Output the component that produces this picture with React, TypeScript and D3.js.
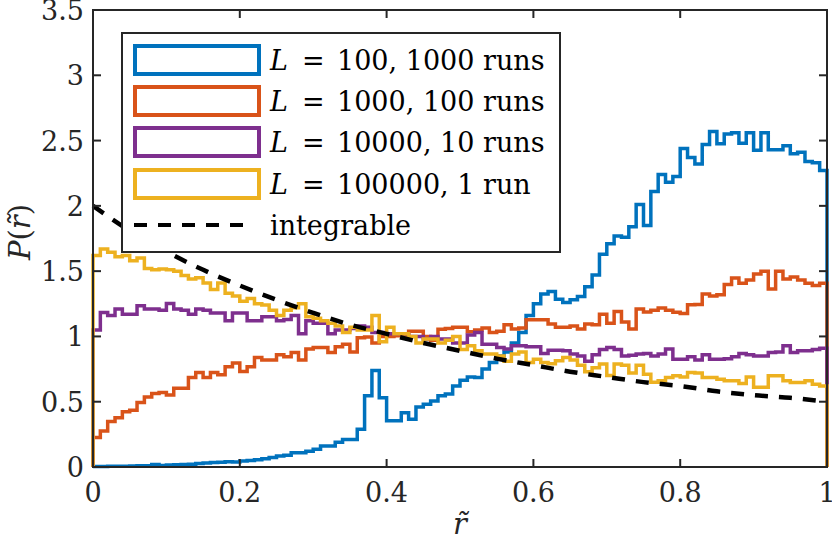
import React, { useEffect, useRef } from 'react';
import * as d3 from 'd3';

// histogram bins of width 0.01 on [0, 1]
const binWidth = 0.01;

const l100 = [
  0.003, 0.004, 0.005, 0.006, 0.006, 0.008, 0.009, 0.010, 0.020, 0.012,
  0.015, 0.018, 0.020, 0.022, 0.026, 0.030, 0.034, 0.036, 0.040, 0.038,
  0.045, 0.050, 0.056, 0.064, 0.072, 0.084, 0.090, 0.110, 0.110, 0.120,
  0.135, 0.160, 0.160, 0.190, 0.210, 0.210, 0.290, 0.545, 0.740, 0.530,
  0.355, 0.355, 0.415, 0.365, 0.460, 0.480, 0.505, 0.545, 0.560, 0.620,
  0.665, 0.690, 0.685, 0.750, 0.800, 0.850, 0.880, 0.950, 1.030, 1.160,
  1.250, 1.325, 1.345, 1.285, 1.260, 1.280, 1.305, 1.380, 1.470, 1.630,
  1.710, 1.770, 1.760, 1.840, 2.010, 1.850, 2.110, 2.240, 2.180, 2.225,
  2.440, 2.370, 2.320, 2.470, 2.570, 2.475, 2.550, 2.560, 2.480, 2.560,
  2.425, 2.560, 2.430, 2.430, 2.460, 2.400, 2.410, 2.340, 2.330, 2.270,
];

const l1000 = [
  0.225, 0.276, 0.348, 0.378, 0.424, 0.435, 0.494, 0.537, 0.563, 0.570,
  0.552, 0.604, 0.604, 0.685, 0.724, 0.685, 0.724, 0.706, 0.767, 0.796,
  0.731, 0.767, 0.839, 0.819, 0.820, 0.860, 0.844, 0.877, 0.819, 0.903,
  0.916, 0.916, 0.877, 0.920, 0.940, 0.880, 0.990, 0.995, 0.950, 1.000,
  1.000, 1.005, 1.010, 1.040, 1.040, 1.000, 0.970, 1.055, 1.060, 1.070,
  1.070, 1.035, 1.050, 1.064, 1.030, 1.040, 1.090, 1.057, 1.064, 1.128,
  1.128, 1.128, 1.095, 1.070, 1.070, 1.080, 1.057, 1.095, 1.090, 1.170,
  1.100, 1.190, 1.110, 1.057, 1.210, 1.187, 1.200, 1.218, 1.200, 1.185,
  1.175, 1.243, 1.245, 1.325, 1.310, 1.320, 1.397, 1.448, 1.407, 1.433,
  1.478, 1.499, 1.364, 1.499, 1.440, 1.455, 1.433, 1.407, 1.390, 1.407,
];

const l10000 = [
  1.050, 1.184, 1.160, 1.210, 1.170, 1.170, 1.235, 1.210, 1.210, 1.200,
  1.253, 1.210, 1.200, 1.170, 1.210, 1.200, 1.180, 1.180, 1.120, 1.180,
  1.180, 1.120, 1.120, 1.150, 1.150, 1.120, 1.130, 1.160, 1.020, 1.120,
  1.100, 1.100, 1.020, 1.050, 1.050, 1.060, 1.080, 1.070, 1.030, 1.030,
  1.020, 1.020, 1.020, 1.000, 1.000, 0.980, 1.000, 0.980, 0.980, 0.950,
  0.950, 1.010, 1.030, 0.940, 0.940, 0.915, 0.903, 0.928, 0.928, 0.920,
  0.920, 0.870, 0.895, 0.895, 0.890, 0.865, 0.850, 0.810, 0.860, 0.900,
  0.915, 0.900, 0.850, 0.855, 0.865, 0.870, 0.850, 0.865, 0.903, 0.826,
  0.826, 0.844, 0.820, 0.860, 0.826, 0.826, 0.830, 0.844, 0.870, 0.860,
  0.850, 0.850, 0.877, 0.880, 0.928, 0.877, 0.890, 0.890, 0.900, 0.910,
];

const l100000 = [
  1.620, 1.670, 1.645, 1.610, 1.620, 1.580, 1.600, 1.520, 1.510, 1.517,
  1.510, 1.500, 1.466, 1.440, 1.450, 1.410, 1.360, 1.410, 1.330, 1.310,
  1.270, 1.290, 1.250, 1.240, 1.200, 1.160, 1.200, 1.220, 1.250, 1.150,
  1.140, 1.120, 1.100, 1.080, 1.030, 1.070, 1.050, 1.050, 1.160, 0.960,
  1.070, 1.020, 1.020, 1.000, 0.950, 0.980, 0.980, 0.950, 0.970, 1.000,
  0.900, 0.928, 0.890, 0.865, 0.865, 0.850, 0.810, 0.865, 0.880, 0.800,
  0.826, 0.800, 0.790, 0.813, 0.839, 0.820, 0.780, 0.730, 0.760, 0.788,
  0.700, 0.788, 0.780, 0.720, 0.780, 0.710, 0.650, 0.660, 0.685, 0.698,
  0.690, 0.724, 0.720, 0.685, 0.685, 0.673, 0.660, 0.660, 0.640, 0.690,
  0.610, 0.610, 0.698, 0.698, 0.660, 0.647, 0.647, 0.660, 0.634, 0.620,
];

// integrable reference curve, read at r = 0, 0.05, ..., 1
const integrableR = [0, 0.05, 0.1, 0.15, 0.2, 0.25, 0.3, 0.35, 0.4, 0.45, 0.5,
  0.55, 0.6, 0.65, 0.7, 0.75, 0.8, 0.85, 0.9, 0.95, 1];
const integrableP = [2.0, 1.81, 1.65, 1.51, 1.39, 1.28, 1.18, 1.09, 1.02, 0.95, 0.89,
  0.83, 0.78, 0.73, 0.69, 0.65, 0.62, 0.58, 0.55, 0.53, 0.5];

const seriesNames = ['L = 100, 1000 runs', 'L = 1000, 100 runs', 'L = 10000, 10 runs', 'L = 100000, 1 run'];
const seriesColors = ['#0072BD', '#D95319', '#7E2F8E', '#EDB120'];
const xTicks = [0, 0.2, 0.4, 0.6, 0.8, 1];
const yTicks = [0, 0.5, 1, 1.5, 2, 2.5, 3, 3.5];

const App: React.FC = () => {
    const ref = useRef<SVGSVGElement>(null);

    useEffect(() => {
        if (!ref.current) return;
        const svg = d3.select(ref.current);
        svg.selectAll('*').remove();

        const left = 93, right = 827, top = 10, bottom = 467;
        const x = d3.scaleLinear().domain([0, 1]).range([left, right]);
        const y = d3.scaleLinear().domain([0, 3.5]).range([bottom, top]);
        const font = 'DejaVu Serif';
        const axisColor = '#262626';

        // histogram outlines (stairs)
        const stairs = d3.line<[number, number]>()
            .x(d => x(d[0]))
            .y(d => y(d[1]))
            .curve(d3.curveStepAfter);

        [l100, l1000, l10000, l100000].forEach((vals, i) => {
            const pts: [number, number][] = [[0, 0]];
            vals.forEach((v, k) => pts.push([k * binWidth, v]));
            pts.push([1, vals[vals.length - 1]]);
            pts.push([1, 0]);
            svg.append('path')
                .attr('d', stairs(pts))
                .attr('fill', 'none')
                .attr('stroke', seriesColors[i])
                .attr('stroke-width', 3.5)
                .attr('stroke-linejoin', 'miter');
        });

        const curve = d3.line<number>()
            .x((_, i) => x(integrableR[i]))
            .y(d => y(d))
            .curve(d3.curveMonotoneX);
        svg.append('path')
            .attr('d', curve(integrableP))
            .attr('fill', 'none')
            .attr('stroke', '#000')
            .attr('stroke-width', 4.5)
            .attr('stroke-dasharray', '13 11');

        // axes box
        const g = svg.append('g').attr('stroke', axisColor).attr('stroke-width', 2);
        g.append('rect').attr('x', left).attr('y', top)
            .attr('width', right - left).attr('height', bottom - top).attr('fill', 'none');
        xTicks.forEach(t => {
            g.append('line').attr('x1', x(t)).attr('x2', x(t)).attr('y1', bottom).attr('y2', bottom - 8);
            g.append('line').attr('x1', x(t)).attr('x2', x(t)).attr('y1', top).attr('y2', top + 8);
        });
        yTicks.forEach(t => {
            g.append('line').attr('x1', left).attr('x2', left + 8).attr('y1', y(t)).attr('y2', y(t));
            g.append('line').attr('x1', right).attr('x2', right - 8).attr('y1', y(t)).attr('y2', y(t));
        });

        svg.append('g').selectAll('text').data(xTicks).enter().append('text')
            .attr('x', d => x(d)).attr('y', 502)
            .attr('text-anchor', 'middle')
            .attr('font-family', font).attr('font-size', 27).attr('fill', axisColor)
            .text(d => String(d));
        svg.append('g').selectAll('text').data(yTicks).enter().append('text')
            .attr('x', 84).attr('y', d => y(d) + 10)
            .attr('text-anchor', 'end')
            .attr('font-family', font).attr('font-size', 27).attr('fill', axisColor)
            .text(d => String(d));

        svg.append('text')
            .attr('x', x(0.5)).attr('y', 534).attr('text-anchor', 'middle')
            .attr('font-family', font).attr('font-size', 29).attr('font-style', 'italic')
            .attr('fill', axisColor)
            .text('r\u0303');
        svg.append('text')
            .attr('transform', 'translate(30,232) rotate(-90)').attr('text-anchor', 'middle')
            .attr('font-family', font).attr('font-size', 29).attr('fill', axisColor)
            .call(t => {
                t.append('tspan').attr('font-style', 'italic').text('P');
                t.append('tspan').text('(');
                t.append('tspan').attr('font-style', 'italic').text('r\u0303');
                t.append('tspan').text(')');
            });

        // legend
        const lg = svg.append('g');
        lg.append('rect').attr('x', 122).attr('y', 33).attr('width', 438).attr('height', 219)
            .attr('fill', '#fff').attr('stroke', axisColor).attr('stroke-width', 2);
        const rowY = [60, 101, 142, 184, 225];
        seriesNames.forEach((name, i) => {
            lg.append('rect').attr('x', 135).attr('y', rowY[i] - 14).attr('width', 124).attr('height', 28)
                .attr('fill', '#fff').attr('stroke', seriesColors[i]).attr('stroke-width', 4);
            const [lhs, rhs] = name.split(' = ');
            const t = lg.append('text').attr('y', rowY[i] + 10)
                .attr('font-family', font).attr('font-size', 27).attr('fill', '#000');
            t.append('tspan').attr('x', 270).attr('font-style', 'italic').text(lhs);
            t.append('tspan').attr('x', 302).text('=');
            t.append('tspan').attr('x', 337).text(rhs);
        });
        lg.append('line').attr('x1', 134).attr('x2', 248).attr('y1', rowY[4]).attr('y2', rowY[4])
            .attr('stroke', '#000').attr('stroke-width', 4).attr('stroke-dasharray', '13 11');
        lg.append('text').attr('x', 270).attr('y', rowY[4] + 10)
            .attr('font-family', font).attr('font-size', 27).attr('fill', '#000')
            .text('integrable');
    }, []);

    return (
        <svg ref={ref} width={832} height={543}
            style={{ position: 'absolute', left: 0, top: 0, background: '#fff' }}></svg>
    );
};

export default App;
